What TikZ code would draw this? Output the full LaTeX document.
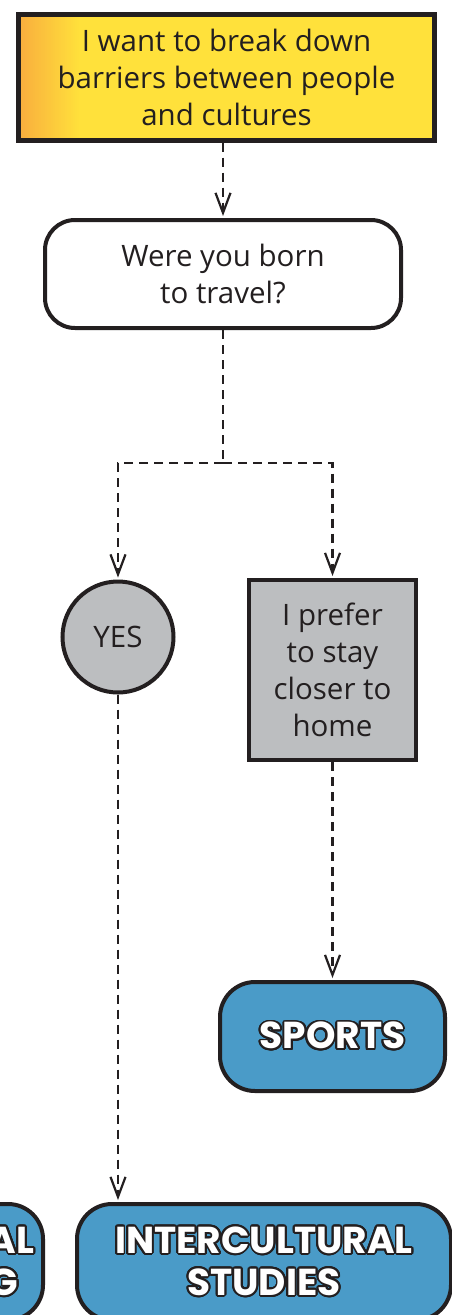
\documentclass[tikz,border=0pt]{standalone}
\usepackage{fontspec}
\setmainfont{Open Sans}
\newfontfamily\boldsans{Poppins}
\usepackage{contour}
\contourlength{1.8pt}
\contournumber{24}
\usetikzlibrary{arrows.meta, positioning, calc}
\definecolor{inkdark}{RGB}{35,31,32}
\definecolor{goalyellow}{RGB}{255,225,59}
\definecolor{goalorange}{RGB}{249,174,62}
\definecolor{boxgray}{RGB}{188,190,192}
\definecolor{pathblue}{RGB}{74,155,200}
\tikzset{
  flowline/.style={inkdark, line width=2.6pt, dash pattern=on 9pt off 6pt,
    -{Straight Barb[length=20pt,width=15pt,line width=2.2pt]}, shorten >=2pt},
  plaintext/.style={text=inkdark, font=\fontsize{29.5}{37}\selectfont, align=center},
  pathbox/.style={draw=inkdark, line width=4pt, fill=pathblue, rounded corners=35pt,
    text=white, font=\boldsans\bfseries\fontsize{37.5}{42}\selectfont, align=center}
}
\newcommand{\outl}[1]{\contour{inkdark}{#1}}
\begin{document}
\begin{tikzpicture}[x=1pt,y=-1pt]
  \useasboundingbox (0,0) rectangle (451,1315);
  \fill[goalyellow] (18.5,12.5) rectangle (434.5,138.5);
  \foreach \i [evaluate=\i as \p using {100-\i*100/30}] in {0,...,29}
    \fill[goalorange!\p!goalyellow] (18.5+\i*2,12.5) rectangle (21+\i*2,138.5);
  \node[plaintext, draw=inkdark, line width=5pt,
    minimum width=416pt, minimum height=126pt, inner sep=0pt]
    (goal) at (226.5,77) {I want to break down\\barriers between people\\and cultures};
  \node[plaintext, draw=inkdark, line width=4pt, fill=white, rounded corners=30pt,
    minimum width=356pt, minimum height=108pt, inner sep=0pt]
    (travel) at (223,274) {Were you born\\to travel?};
  \node[plaintext, circle, draw=inkdark, line width=4pt, fill=boxgray,
    minimum size=111pt, inner sep=0pt] (yes) at (118,637) {YES};
  \node[plaintext, draw=inkdark, line width=4pt, fill=boxgray,
    minimum width=167pt, minimum height=180pt, inner sep=0pt]
    (home) at (332.5,670) {I prefer\\to stay\\closer to\\home};
  \node[pathbox, minimum width=225pt, minimum height=109pt] (sports) at (332.5,1036.5) {\outl{SPORTS}};
  \node[pathbox, minimum width=374pt, minimum height=116pt] (intercult) at (264,1262)
    {\outl{INTERCULTURAL}\\\outl{STUDIES}};
  \node[pathbox, minimum width=220pt, minimum height=116pt] (other) at (-67,1262) {};
  \node[text=white, font=\boldsans\bfseries\fontsize{37.5}{42}\selectfont, anchor=east] (otherA) at (38,1241) {\outl{AL}};
  \node[text=white, font=\boldsans\bfseries\fontsize{37.5}{42}\selectfont, anchor=east] (otherB) at (22,1283) {\outl{G}};
  \coordinate (split) at (223,463);
  \draw[flowline] (travel.north |- goal.south) -- (travel.north);
  \draw[flowline, -] (travel.south) -- (split);
  \draw[flowline] (split) -| (yes.north);
  \draw[flowline] (split) -| (home.north);
  \draw[flowline] (home.south) -- (sports.north);
  \draw[flowline] (yes.south) -- (yes.south |- intercult.north);
\end{tikzpicture}
\end{document}
